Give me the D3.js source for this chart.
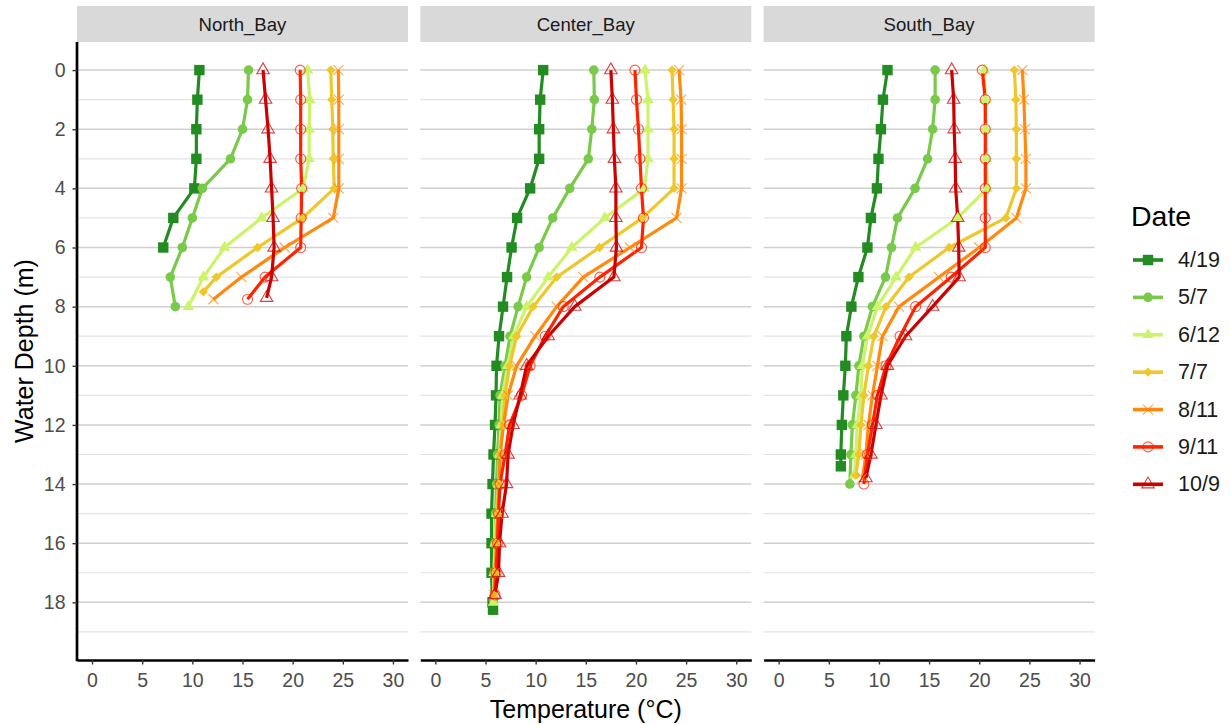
<!DOCTYPE html>
<html>
<head>
<meta charset="utf-8">
<script src="https://cdn.jsdelivr.net/npm/d3@7"></script>
<style>
  body { margin: 0; background: #ffffff; }
  svg { display: block; font-family: "Liberation Sans", Arial, sans-serif; }
</style>
</head>
<body>
<svg id="chart" width="1230" height="725"></svg>
<script>
// ---- Categories and ticks ----
const sites = ["North_Bay", "Center_Bay", "South_Bay"];
const dates = ["4/19", "5/7", "6/12", "7/7", "8/11", "9/11", "10/9"];
const dateColors = ["#228B22", "#79C94B", "#CDF36B", "#EDC72C", "#FF8A0F", "#FF2400", "#CC0000"];
const dateShapes = ["square", "circle", "triangle", "diamond", "cross", "openCircle", "openTriangle"];
const depthTicks = [0, 2, 4, 6, 8, 10, 12, 14, 16, 18];
const depthMinor = [1, 3, 5, 7, 9, 11, 13, 15, 17, 19];
const tempTicks = [0, 5, 10, 15, 20, 25, 30];

// ---- Sampling depths (m) ----
const depth0to6 = [0, 1, 2, 3, 4, 5, 6];
const depth0to8 = [0, 1, 2, 3, 4, 5, 6, 7, 8];
const depth0to7p5 = [0, 1, 2, 3, 4, 5, 6, 7, 7.5];
const depth0to7p75 = [0, 1, 2, 3, 4, 5, 6, 7, 7.75];
const depth0to7p7 = [0, 1, 2, 3, 4, 5, 6, 7, 7.7];
const depth0to18p25 = [0, 1, 2, 3, 4, 5, 6, 7, 8, 9, 10, 11, 12, 13, 14, 15, 16, 17, 18, 18.25];
const depth0to17p9 = [0, 1, 2, 3, 4, 5, 6, 7, 8, 9, 10, 11, 12, 13, 14, 15, 16, 17, 17.9];
const depth0to18 = [0, 1, 2, 3, 4, 5, 6, 7, 8, 9, 10, 11, 12, 13, 14, 15, 16, 17, 18];
const depth0to17p75 = [0, 1, 2, 3, 4, 5, 6, 7, 8, 9, 10, 11, 12, 13, 14, 15, 16, 17, 17.75];
const depth0to13p4 = [0, 1, 2, 3, 4, 5, 6, 7, 8, 9, 10, 11, 12, 13, 13.4];
const depth0to14 = [0, 1, 2, 3, 4, 5, 6, 7, 8, 9, 10, 11, 12, 13, 14];
const depth0to13p7 = [0, 1, 2, 3, 4, 5, 6, 7, 8, 9, 10, 11, 12, 13, 13.7];
const depth0to13p8 = [0, 1, 2, 3, 4, 5, 6, 7, 8, 9, 10, 11, 12, 13, 13.8];

// ---- North_Bay temperatures (°C) ----
const north0419 = [10.7, 10.5, 10.4, 10.4, 10.2, 8.1, 7.1];
const north0507 = [15.6, 15.5, 15.0, 13.8, 11.0, 10.0, 9.0, 7.8, 8.3];
const north0612 = [21.5, 21.7, 21.65, 21.65, 21.05, 16.9, 13.2, 11.1, 9.6];
const north0707 = [23.8, 23.9, 24.0, 24.05, 24.15, 21.0, 16.5, 12.4, 11.1];
const north0811 = [24.55, 24.6, 24.6, 24.6, 24.6, 24.05, 19.2, 14.9, 12.1];
const north0911 = [20.75, 20.8, 20.8, 20.8, 20.9, 20.85, 20.8, 17.25, 15.5];
const north1009 = [17.05, 17.3, 17.55, 17.75, 17.9, 18.05, 18.15, 17.9, 17.4];

// ---- Center_Bay temperatures (°C) ----
const center0419 = [10.75, 10.45, 10.35, 10.35, 9.45, 8.15, 7.6, 7.15, 6.75, 6.35, 6.1, 6.05, 5.95, 5.8, 5.7, 5.6, 5.6, 5.6, 5.7, 5.75];
const center0507 = [15.8, 15.85, 15.6, 15.25, 13.4, 11.7, 10.35, 9.1, 8.25, 7.45, 6.95, 6.45, 6.35, 6.2, 6.1, 6.0, 5.95, 5.85, 5.8];
const center0612 = [20.9, 21.2, 21.2, 21.2, 20.85, 16.9, 13.6, 11.25, 9.1, 7.8, 7.2, 6.7, 6.55, 6.4, 6.3, 6.1, 5.95, 5.85, 5.8];
const center0707 = [23.6, 23.7, 23.8, 23.8, 23.8, 20.65, 16.35, 12.1, 9.75, 8.1, 7.4, 6.95, 6.75, 6.45, 6.3, 6.2, 6.05, 5.95, 5.85];
const center0811 = [24.3, 24.5, 24.55, 24.55, 24.55, 24.05, 19.4, 14.75, 12.1, 9.95, 8.1, 7.25, 6.8, 6.45, 6.35, 6.25, 6.1, 5.95, 5.85];
const center0911 = [19.9, 20.05, 20.25, 20.4, 20.55, 20.75, 20.55, 16.4, 12.75, 10.95, 9.45, 8.6, 7.4, 6.95, 6.45, 6.3, 6.2, 6.05, 5.95];
const center1009 = [17.5, 17.65, 17.75, 17.85, 18.0, 18.0, 18.05, 17.8, 13.9, 11.25, 9.1, 8.45, 7.75, 7.25, 7.1, 6.65, 6.4, 6.3, 5.95];

// ---- South_Bay temperatures (°C) ----
const south0419 = [10.85, 10.4, 10.2, 9.95, 9.8, 9.2, 8.85, 7.95, 7.25, 6.75, 6.65, 6.45, 6.3, 6.2, 6.2];
const south0507 = [15.6, 15.6, 15.35, 14.85, 13.6, 11.85, 11.25, 10.65, 9.35, 8.5, 8.0, 7.7, 7.35, 7.2, 7.1];
const south0612 = [20.5, 20.6, 20.65, 20.7, 20.8, 17.85, 13.65, 11.7, 9.85, 8.85, 8.35, 8.2, 7.85, 7.7, 7.55];
const south0707 = [23.5, 23.65, 23.7, 23.7, 23.7, 22.65, 17.0, 13.0, 10.7, 9.5, 8.95, 8.5, 8.2, 8.0, 7.7];
const south0811 = [24.3, 24.45, 24.55, 24.65, 24.65, 23.7, 20.0, 16.0, 12.0, 10.35, 9.85, 9.35, 8.95, 8.7, 8.35];
const south0911 = [20.3, 20.6, 20.6, 20.6, 20.6, 20.6, 20.6, 17.2, 13.65, 12.1, 10.7, 9.85, 9.35, 8.85, 8.5];
const south1009 = [17.25, 17.45, 17.5, 17.6, 17.65, 17.85, 17.95, 18.0, 15.35, 12.65, 10.85, 10.2, 9.7, 9.2, 8.7];

// ---- Assemble profiles (site, date, depth/temperature pairs) ----
const profileSpec = [
  ["North_Bay", "4/19", depth0to6, north0419],
  ["North_Bay", "5/7", depth0to8, north0507],
  ["North_Bay", "6/12", depth0to8, north0612],
  ["North_Bay", "7/7", depth0to7p5, north0707],
  ["North_Bay", "8/11", depth0to7p75, north0811],
  ["North_Bay", "9/11", depth0to7p75, north0911],
  ["North_Bay", "10/9", depth0to7p7, north1009],
  ["Center_Bay", "4/19", depth0to18p25, center0419],
  ["Center_Bay", "5/7", depth0to17p9, center0507],
  ["Center_Bay", "6/12", depth0to18, center0612],
  ["Center_Bay", "7/7", depth0to17p75, center0707],
  ["Center_Bay", "8/11", depth0to17p75, center0811],
  ["Center_Bay", "9/11", depth0to17p75, center0911],
  ["Center_Bay", "10/9", depth0to17p75, center1009],
  ["South_Bay", "4/19", depth0to13p4, south0419],
  ["South_Bay", "5/7", depth0to14, south0507],
  ["South_Bay", "6/12", depth0to13p7, south0612],
  ["South_Bay", "7/7", depth0to13p7, south0707],
  ["South_Bay", "8/11", depth0to13p8, south0811],
  ["South_Bay", "9/11", depth0to14, south0911],
  ["South_Bay", "10/9", depth0to13p8, south1009]
];
const profiles = profileSpec.map(([site, date, depths, temps]) => ({
  site, date,
  points: depths.map((d, i) => ({ depth: d, temp: temps[i] }))
}));

// ---- Layout ----
const svg = d3.select("#chart");
const panelW = 331;
const panelGap = 12.3;
const plotLeft = 77;
const plotTop = 42;
const plotBottom = 660;
const stripTop = 6;

const panelScale = d3.scaleBand().domain(sites)
  .range([plotLeft, plotLeft + 3 * panelW + 2 * panelGap])
  .paddingInner(panelGap / (panelW + panelGap));

const x = d3.scaleLinear().domain([-1.5, 31.5]).range([0, panelW]);
const y = d3.scaleLinear().domain([-0.95, 19.95]).range([plotTop, plotBottom]);
const color = d3.scaleOrdinal().domain(dates).range(dateColors);
const shape = d3.scaleOrdinal().domain(dates).range(dateShapes);

svg.append("rect").attr("width", 1230).attr("height", 725).attr("fill", "#ffffff");

// Marker outlines centred on the data point
function markerPath(kind) {
  switch (kind) {
    case "square": { const h = 5.2; return `M${-h},${-h}H${h}V${h}H${-h}Z`; }
    case "circle": { const r = 4.8; return `M${r},0A${r},${r},0,1,1,${-r},0A${r},${r},0,1,1,${r},0Z`; }
    case "triangle": { const a = 11.5, R = a / Math.sqrt(3); return `M0,${-R}L${a / 2},${R / 2}L${-a / 2},${R / 2}Z`; }
    case "diamond": { const h = 4.7; return `M0,${-h}L${h},0L0,${h}L${-h},0Z`; }
    case "cross": { const h = 5; return `M${-h},${-h}L${h},${h}M${-h},${h}L${h},${-h}`; }
    case "openCircle": { const r = 5; return `M${r},0A${r},${r},0,1,1,${-r},0A${r},${r},0,1,1,${r},0Z`; }
    case "openTriangle": { const a = 12.5, R = a / Math.sqrt(3); return `M0,${-R}L${a / 2},${R / 2}L${-a / 2},${R / 2}Z`; }
  }
}
function styleMarker(sel, date) {
  const k = shape(date), c = color(date);
  const filled = ["square", "circle", "triangle", "diamond"].includes(k);
  sel.attr("d", markerPath(k))
    .attr("fill", filled ? c : "none")
    .attr("stroke", filled ? "none" : c)
    .attr("stroke-width", filled ? 0 : 1.1)
    .attr("stroke-opacity", filled ? 1 : 0.75);
}

const line = d3.line().x(d => x(d.temp)).y(d => y(d.depth));

sites.forEach((site, si) => {
  const g = svg.append("g").attr("transform", `translate(${panelScale(site)},0)`);

  // facet strip
  g.append("rect").attr("x", 0).attr("y", stripTop).attr("width", panelW)
    .attr("height", plotTop - stripTop).attr("fill", "#d9d9d9");
  g.append("text").attr("x", panelW / 2).attr("y", (stripTop + plotTop) / 2)
    .attr("text-anchor", "middle").attr("dominant-baseline", "central")
    .attr("font-size", "18.6px").attr("fill", "#1a1a1a").text(site);

  // horizontal grid
  g.selectAll("line.minor").data(depthMinor).join("line").attr("class", "minor")
    .attr("x1", 0).attr("x2", panelW).attr("y1", d => y(d)).attr("y2", d => y(d))
    .attr("stroke", "#e3e3e3").attr("stroke-width", 1.2);
  g.selectAll("line.major").data(depthTicks).join("line").attr("class", "major")
    .attr("x1", 0).attr("x2", panelW).attr("y1", d => y(d)).attr("y2", d => y(d))
    .attr("stroke", "#cfcfcf").attr("stroke-width", 1.5);

  const siteProfiles = profiles.filter(p => p.site === site);

  // profile lines
  g.selectAll("path.profile").data(siteProfiles).join("path").attr("class", "profile")
    .attr("d", p => line(p.points))
    .attr("fill", "none").attr("stroke", p => color(p.date))
    .attr("stroke-width", 3.2).attr("stroke-linejoin", "round").attr("stroke-linecap", "butt");

  // profile points
  siteProfiles.forEach(p => {
    g.append("g").selectAll("path").data(p.points).join("path")
      .attr("transform", d => `translate(${x(d.temp)},${y(d.depth)})`)
      .call(styleMarker, p.date);
  });

  // bottom axis
  const xa = g.append("g").attr("transform", `translate(0,${plotBottom})`)
    .call(d3.axisBottom(x).tickValues(tempTicks).tickSize(4.5).tickSizeOuter(0).tickPadding(9));
  xa.select(".domain").attr("stroke", "#000").attr("stroke-width", 2.7);
  xa.selectAll(".tick line").attr("stroke", "#333").attr("stroke-width", 1.4);
  xa.selectAll(".tick text").attr("fill", "#4d4d4d").attr("font-size", "19.5px")
    .attr("font-family", "Liberation Sans, Arial, sans-serif");

  // left axis on the first panel only
  if (si === 0) {
    const ya = g.append("g")
      .call(d3.axisLeft(y).tickValues(depthTicks).tickSize(4.5).tickSizeOuter(0).tickPadding(7));
    ya.select(".domain").attr("stroke", "#000").attr("stroke-width", 2.7)
      .attr("d", `M0,${plotTop}V${plotBottom + 1.35}`);
    ya.selectAll(".tick line").attr("stroke", "#333").attr("stroke-width", 1.4);
    ya.selectAll(".tick text").attr("fill", "#4d4d4d").attr("font-size", "19.5px")
      .attr("font-family", "Liberation Sans, Arial, sans-serif");
  }
});

// axis titles
svg.append("text").attr("x", (plotLeft + panelScale.range()[1]) / 2).attr("y", 718)
  .attr("text-anchor", "middle").attr("font-size", "25px").attr("fill", "#000")
  .text("Temperature (°C)");
svg.append("text").attr("transform", `translate(32.5,${(plotTop + plotBottom) / 2}) rotate(-90)`)
  .attr("text-anchor", "middle").attr("font-size", "25px").attr("fill", "#000")
  .text("Water Depth (m)");

// legend
const legend = svg.append("g");
legend.append("text").attr("x", 1131).attr("y", 226).attr("font-size", "28.5px")
  .attr("fill", "#000").text("Date");
const legendY = d3.scalePoint().domain(dates).range([260, 484.3]);
dates.forEach(dt => {
  const ly = legendY(dt);
  legend.append("line").attr("x1", 1133).attr("x2", 1163).attr("y1", ly).attr("y2", ly)
    .attr("stroke", color(dt)).attr("stroke-width", 3.6);
  legend.append("path").attr("transform", `translate(1148,${ly})`).call(styleMarker, dt);
  legend.append("text").attr("x", 1178).attr("y", ly).attr("dominant-baseline", "central")
    .attr("font-size", "21.5px").attr("fill", "#1a1a1a").text(dt);
});
</script>
</body>
</html>
